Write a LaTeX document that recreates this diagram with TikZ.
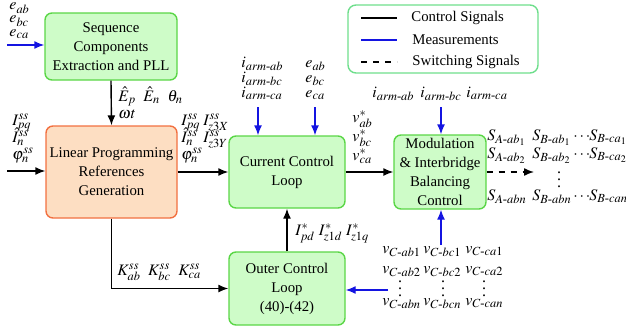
\documentclass[tikz,border=0pt]{standalone}
\usepackage{amsmath}
\usepackage{mathptmx}
\usepackage{fontspec}
\setmainfont{Liberation Serif}
\usetikzlibrary{arrows.meta, positioning}
\DeclareMathSizes{8}{8}{6.2}{5}
\definecolor{blockgreen}{RGB}{206,252,200}
\definecolor{blockedge}{RGB}{90,214,70}
\definecolor{refcolor}{RGB}{253,222,194}
\definecolor{refedge}{RGB}{242,112,64}
\definecolor{legendedge}{RGB}{110,222,140}
\definecolor{measblue}{RGB}{20,20,225}
\newcommand{\hy}{\text{-}}
\newcommand{\lblcol}[2]{\makebox[#1][l]{#2}}
\newcommand{\vdt}{\vbox{\baselineskip3.5pt\lineskiplimit0pt\hbox{.}\hbox{.}\hbox{.}}}

\begin{document}
\begin{tikzpicture}[
    x=0.5pt, y=-0.5pt,
    every node/.style={font=\fontsize{7.4}{9.5}\selectfont, inner sep=0pt},
    block/.style={draw=blockedge, fill=blockgreen, line width=0.7pt, rounded corners=3.5pt, align=center},
    refblock/.style={block, draw=refedge, fill=refcolor},
    lbl/.style={anchor=base west, font=\fontsize{8}{9}\selectfont},
    dotsym/.style={font=\fontsize{8}{9}\selectfont},
    ctrl/.style={-{Latex[length=5pt,width=4pt]}, line width=0.7pt},
    meas/.style={ctrl, measblue},
    switch/.style={ctrl, dashed}
]
    \useasboundingbox (0,0) rectangle (626,332);
    % blocks
    \node[block, minimum width=66pt, minimum height=33.5pt] (seq) at (111,46.5) {Sequence\\Components\\Extraction and PLL};
    \node[refblock, minimum width=65.5pt, minimum height=46pt] (lp) at (111.5,172) {Linear Programming\\References\\Generation};
    \node[block, minimum width=58pt, minimum height=36pt] (ccl) at (287,172) {Current Control\\Loop};
    \node[block, minimum width=46pt, minimum height=37pt] (mod) at (440,172) {Modulation\\\& Interbridge\\Balancing\\Control};
    \node[block, minimum width=58pt, minimum height=36.5pt] (ocl) at (287,288.5) {Outer Control\\Loop\\(40)-(42)};

    % legend
    \draw[legendedge, line width=0.7pt, rounded corners=4pt] (348,5) rectangle (538,73);
    \coordinate (lgA) at (361,18);
    \coordinate (lgB) at (361,40);
    \coordinate (lgC) at (361,62);
    \draw[line width=0.8pt] (lgA) -- ++(36,0) coordinate (lgAe);
    \draw[measblue, line width=0.8pt] (lgB) -- ++(36,0) coordinate (lgBe);
    \draw[dashed, line width=0.8pt] (lgC) -- ++(36,0) coordinate (lgCe);
    \node[anchor=west, xshift=7pt] (lgtA) at (lgAe) {Control Signals};
    \node[anchor=west, xshift=7.5pt] (lgtB) at (lgBe) {Measurements};
    \node[anchor=west, xshift=7.5pt] (lgtC) at (lgCe) {Switching Signals};

    % connectors
    \coordinate (eIn) at (7,45);
    \coordinate (iIn) at (7,171);
    \coordinate (sOut) at (534,172);
    \coordinate (armA) at (258,107);
    \coordinate (gridE) at (315,107);
    \coordinate (armM) at (441,107);
    \coordinate (vcM) at (441,245);
    \coordinate (vcO) at (388,290);
    \draw[meas] (eIn) -- (eIn -| seq.west);
    \draw[ctrl] (seq.south) -- (lp.north);
    \draw[ctrl] (iIn) -- (iIn -| lp.west);
    \draw[ctrl] (lp.east) -- (ccl.west);
    \draw[ctrl] (ccl.east) -- (mod.west);
    \draw[switch] (mod.east) -- (sOut);
    \draw[meas] (armA) -- (armA |- ccl.north);
    \draw[meas] (gridE) -- (gridE |- ccl.north);
    \draw[meas] (armM) -- (armM |- mod.north);
    \draw[meas] (vcM) -- (vcM |- mod.south);
    \draw[meas] (vcO) -- (vcO -| ocl.east);
    \draw[ctrl] (ocl.north) -- (ccl.south);
    \draw[ctrl] (lp.south) |- (ocl.west);

    % labels
    \node[lbl] (eSeqA) at (9,10) {$e_{ab}$};
    \node[lbl] (eSeqB) at (9,23) {$e_{bc}$};
    \node[lbl] (eSeqC) at (9,36.5) {$e_{ca}$};
    \node[lbl] (eHat) at (118,101) {$\hat{E}_p\;\;\hat{E}_n\;\;\theta_n$};
    \node[lbl] (wt) at (118,118) {$\omega t$};
    \node[lbl] (iRefA) at (12,125) {$I_{pq}^{ss}$};
    \node[lbl] (iRefB) at (12,142) {$\hat{I}_n^{ss}$};
    \node[lbl] (iRefC) at (12,159) {$\varphi_n^{ss}$};
    \node[lbl] (iOutA) at (181,125) {\lblcol{11pt}{$I_{pq}^{ss}$}$I_{z3X}^{ss}$};
    \node[lbl] (iOutB) at (181,142) {\lblcol{11pt}{$\hat{I}_n^{ss}$}$I_{z3Y}^{ss}$};
    \node[lbl] (iOutC) at (181,159) {$\varphi_n^{ss}$};
    \node[lbl] (iArmA) at (241,67) {$i_{arm\hy ab}$};
    \node[lbl] (iArmB) at (241,82) {$i_{arm\hy bc}$};
    \node[lbl] (iArmC) at (241,97) {$i_{arm\hy ca}$};
    \node[lbl] (eCclA) at (305,67) {$e_{ab}$};
    \node[lbl] (eCclB) at (305,82) {$e_{bc}$};
    \node[lbl] (eCclC) at (305,97) {$e_{ca}$};
    \node[lbl] (vRefA) at (352,122) {$v_{ab}^{*}$};
    \node[lbl] (vRefB) at (352,141) {$v_{bc}^{*}$};
    \node[lbl] (vRefC) at (352,160) {$v_{ca}^{*}$};
    \node[lbl] (iArmM) at (372,97) {\lblcol{24pt}{$i_{arm\hy ab}$}\lblcol{23pt}{$i_{arm\hy bc}$}$i_{arm\hy ca}$};
    \node[lbl] (iStar) at (295,235) {$I_{pd}^{*}\; I_{z1d}^{*}\; I_{z1q}^{*}$};
    \node[lbl] (kRef) at (117,275) {$K_{ab}^{ss}\;\; K_{bc}^{ss}\;\; K_{ca}^{ss}$};
    \node[lbl] (sRowA) at (487,140) {\lblcol{22.5pt}{$S_{A\hy ab_1}$}\lblcol{20.5pt}{$S_{B\hy ab_1}$}\lblcol{8pt}{$\cdots$}$S_{B\hy ca_1}$};
    \node[lbl] (sRowB) at (487,158) {\lblcol{22.5pt}{$S_{A\hy ab_2}$}\lblcol{20.5pt}{$S_{B\hy ab_2}$}\lblcol{8pt}{$\cdots$}$S_{B\hy ca_2}$};
    \node[dotsym] (sDots) at (559,180) {\vdt};
    \node[lbl] (sRowN) at (487,200) {\lblcol{22.5pt}{$S_{A\hy abn}$}\lblcol{20.5pt}{$S_{B\hy abn}$}\lblcol{8pt}{$\cdots$}$S_{B\hy can}$};
    \node[lbl] (vcRowA) at (382,253) {\lblcol{20.5pt}{$v_{C\hy ab1}$}\lblcol{21pt}{$v_{C\hy bc1}$}$v_{C\hy ca1}$};
    \node[lbl] (vcRowB) at (382,273) {\lblcol{20.5pt}{$v_{C\hy ab2}$}\lblcol{21pt}{$v_{C\hy bc2}$}$v_{C\hy ca2}$};
    \node[dotsym] (vcDotsA) at (400,289) {\vdt};
    \node[dotsym] (vcDotsB) at (443,289) {\vdt};
    \node[dotsym] (vcDotsC) at (484,289) {\vdt};
    \node[lbl] (vcRowN) at (382,305) {\lblcol{20.5pt}{$v_{C\hy abn}$}\lblcol{21pt}{$v_{C\hy bcn}$}$v_{C\hy can}$};
\end{tikzpicture}
\end{document}
